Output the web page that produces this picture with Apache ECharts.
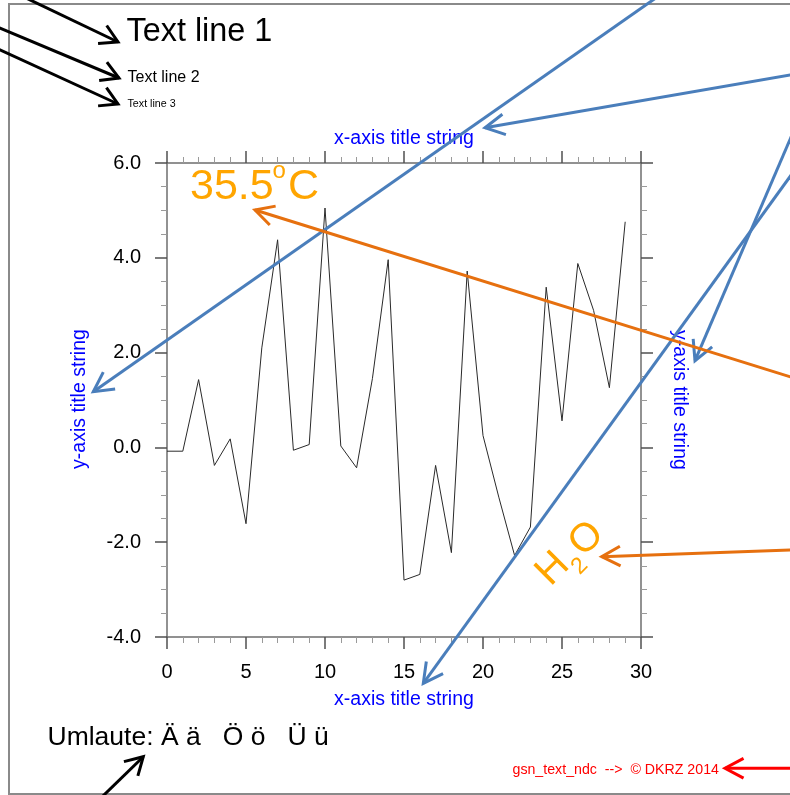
<!DOCTYPE html>
<html>
<head>
<meta charset="utf-8">
<title>gsn_text_ndc</title>
<script src="https://cdn.jsdelivr.net/npm/echarts@6/dist/echarts.min.js"></script>
<style>
  html, body { margin: 0; padding: 0; background: #ffffff; }
  #chart { width: 790px; height: 795px; }
</style>
</head>
<body>
<div id="chart"></div>
<script>
// ---- data -------------------------------------------------------------
const xValues = [0, 1, 2, 3, 4, 5, 6, 7, 8, 9, 10, 11, 12, 13, 14,
                 15, 16, 17, 18, 19, 20, 21, 22, 23, 24, 25, 26, 27, 28, 29];
const yValues = [-0.08, -0.08, 1.43, -0.38, 0.18, -1.61, 2.10, 4.38, -0.06, 0.06,
                 5.05, 0.03, -0.43, 1.45, 3.96, -2.80, -2.68, -0.38, -2.22, 3.72,
                 0.25, -1.05, -2.28, -1.68, 3.38, 0.56, 3.88, 2.89, 1.26, 4.76];
const xTickLabels = ['0', '5', '10', '15', '20', '25', '30'];
const yTickLabels = ['-4.0', '-2.0', '0.0', '2.0', '4.0', '6.0'];

const X_MIN = 0, X_MAX = 30, X_STEP = 5;
const Y_MIN = -4, Y_MAX = 6, Y_STEP = 2;

// ---- styling ----------------------------------------------------------
const FONT = '"Liberation Sans", Arial, Helvetica, sans-serif';
const BLUE_TXT = '#0000ff';
const BLUE_ARROW = '#4a7ebb';
const ORANGE_TXT = '#ffa500';
const ORANGE_ARROW = '#e6700f';
const RED = '#ff0000';

const chart = echarts.init(document.getElementById('chart'), null, { renderer: 'canvas' });

// common tick / axis styling for the four plot borders
function border(kind, position, showLabels) {
  const isX = kind === 'x';
  return {
    type: 'value',
    position: position,
    min: isX ? X_MIN : Y_MIN,
    max: isX ? X_MAX : Y_MAX,
    interval: isX ? X_STEP : Y_STEP,
    axisLine: { show: true, onZero: false, lineStyle: { color: '#6e6e6e', width: 1.5 } },
    axisTick: { show: true, inside: false, length: 12, lineStyle: { color: '#505050', width: 1.5 } },
    minorTick: { show: true, splitNumber: isX ? 5 : 4, length: 6, lineStyle: { color: '#9a9a9a', width: 1 } },
    splitLine: { show: false },
    minorSplitLine: { show: false },
    axisLabel: {
      show: showLabels,
      margin: isX ? 25 : 26,
      color: '#000',
      fontSize: 20,
      fontFamily: FONT,
      formatter: isX
        ? (v) => xTickLabels[Math.round((v - X_MIN) / X_STEP)]
        : (v) => yTickLabels[Math.round((v - Y_MIN) / Y_STEP)]
    }
  };
}

// ---- annotation helpers ----------------------------------------------
function text(str, x, y, size, color, align, rotation) {
  return {
    type: 'text', x: x, y: y, rotation: rotation || 0, z: 20,
    style: {
      text: str, x: 0, y: 0, fill: color,
      fontSize: size, fontFamily: FONT,
      textAlign: align, textVerticalAlign: 'middle',
      align: align, verticalAlign: 'middle'
    }
  };
}

function arrow(tail, tip, color, width, headLen, headDeg) {
  const dx = tail[0] - tip[0], dy = tail[1] - tip[1];
  const len = Math.hypot(dx, dy);
  const ux = dx / len, uy = dy / len;
  const a = headDeg * Math.PI / 180;
  const barb = (s) => [
    tip[0] + headLen * (ux * Math.cos(s * a) - uy * Math.sin(s * a)),
    tip[1] + headLen * (ux * Math.sin(s * a) + uy * Math.cos(s * a))
  ];
  const style = { stroke: color, lineWidth: width, fill: null, lineJoin: 'miter' };
  return [
    { type: 'polyline', z: 30, shape: { points: [tail, tip] }, style: style },
    { type: 'polyline', z: 30, shape: { points: [barb(1), tip, barb(-1)] }, style: style }
  ];
}

// arrows: [tail, tip]
const blackArrows = [
  [[-20, -24], [118, 42]],
  [[-20, 19.6], [119, 78]],
  [[-20, 40.8], [118, 104]],
  [[83.4, 815], [143.3, 756.7]]
];
const blueArrows = [
  [[681.5, -20], [93.3, 391.7]],
  [[810, 71.5], [485, 127.7]],
  [[807, 100], [695, 360.7]],
  [[810, 149], [423.3, 683.3]]
];
const orangeArrows = [
  [[810, 383], [255, 210]],
  [[810, 549.3], [601.7, 556.7]]
];
const redArrows = [
  [[810, 768.3], [725, 768.3]]
];

const graphics = [
  // page frame
  { type: 'rect', z: 1, shape: { x: 9, y: 4, width: 800, height: 790 },
    style: { fill: null, stroke: '#8a8a8a', lineWidth: 2 } },

  text('Text line 1', 126.5, 31.8, 32.4, '#000', 'left'),
  text('Text line 2', 127.5, 77.6, 16, '#000', 'left'),
  text('Text line 3', 127.5, 103.6, 10.7, '#000', 'left'),

  text('x-axis title string', 404, 138.2, 19.5, BLUE_TXT, 'center'),
  text('x-axis title string', 404, 699.2, 19.5, BLUE_TXT, 'center'),
  text('y-axis title string', 80, 399, 19.5, BLUE_TXT, 'center', Math.PI / 2),
  text('y-axis title string', 679, 400, 19.5, BLUE_TXT, 'center', -Math.PI / 2),

  // 35.5 degC with raised "o"
  text('35.5', 190, 187.1, 43, ORANGE_TXT, 'left'),
  text('o', 279.2, 171.5, 24, ORANGE_TXT, 'center'),
  text('C', 288, 187.1, 43, ORANGE_TXT, 'left'),

  // H2O written at 45 degrees with a lowered "2"
  {
    type: 'group', x: 553, y: 569, rotation: Math.PI / 4, z: 20,
    children: [
      text('H', 0, 0, 40, ORANGE_TXT, 'center'),
      text('2', 21, 17, 23, ORANGE_TXT, 'center'),
      text('O', 45, 2.5, 40, ORANGE_TXT, 'center')
    ]
  },

  text('Umlaute: \u00C4 \u00E4   \u00D6 \u00F6   \u00DC \u00FC', 47.5, 737.6, 26.5, '#000', 'left'),
  text('gsn_text_ndc  -->  \u00A9 DKRZ 2014', 512.5, 770.1, 14.2, RED, 'left')
];

blackArrows.forEach(a => graphics.push(...arrow(a[0], a[1], '#000', 3, 20, 30)));
blueArrows.forEach(a => graphics.push(...arrow(a[0], a[1], BLUE_ARROW, 3, 22, 28)));
orangeArrows.forEach(a => graphics.push(...arrow(a[0], a[1], ORANGE_ARROW, 3, 21, 28)));
redArrows.forEach(a => graphics.push(...arrow(a[0], a[1], RED, 3, 21, 28)));

chart.setOption({
  backgroundColor: '#ffffff',
  animation: false,
  grid: { left: 167, top: 163, width: 474, height: 474, containLabel: false, outerBoundsMode: 'none' },
  xAxis: [border('x', 'bottom', true), border('x', 'top', false)],
  yAxis: [border('y', 'left', true), border('y', 'right', false)],
  series: [{
    type: 'line',
    xAxisIndex: 0,
    yAxisIndex: 0,
    data: xValues.map((x, i) => [x, yValues[i]]),
    symbol: 'none',
    lineStyle: { color: '#2a2a2a', width: 1 },
    z: 5
  }],
  graphic: graphics
});
</script>
</body>
</html>
